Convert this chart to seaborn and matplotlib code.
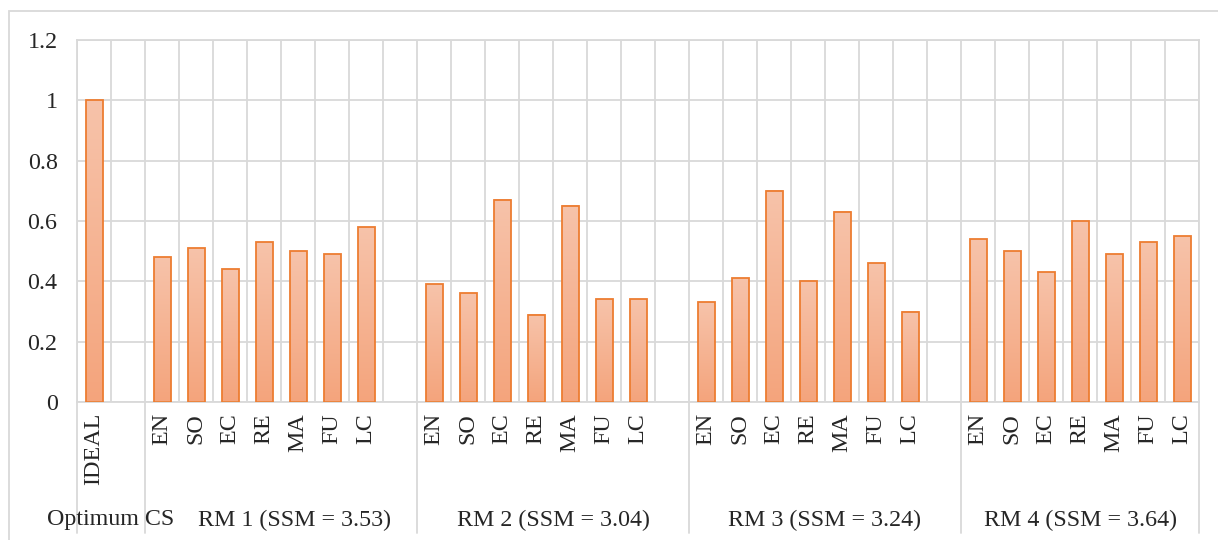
import numpy as np
import pandas as pd
import matplotlib
matplotlib.use("Agg")
import matplotlib.pyplot as plt
import matplotlib.transforms as mtransforms
from matplotlib.colors import LinearSegmentedColormap
from matplotlib.patches import Rectangle
import seaborn as sns

# ---- data ----
criteria = ["EN", "SO", "EC", "RE", "MA", "FU", "LC"]
ideal_label = "IDEAL"
ideal_value = 1.0
group_names = ["RM 1 (SSM = 3.53)", "RM 2 (SSM = 3.04)", "RM 3 (SSM = 3.24)", "RM 4 (SSM = 3.64)"]
rm1 = [0.48, 0.51, 0.44, 0.53, 0.50, 0.49, 0.58]
rm2 = [0.39, 0.36, 0.67, 0.29, 0.65, 0.34, 0.34]
rm3 = [0.33, 0.41, 0.70, 0.40, 0.63, 0.46, 0.30]
rm4 = [0.54, 0.50, 0.43, 0.60, 0.49, 0.53, 0.55]
optimum_name = "Optimum CS"
y_ticks = [0, 0.2, 0.4, 0.6, 0.8, 1.0, 1.2]
y_tick_labels = ["0", "0.2", "0.4", "0.6", "0.8", "1", "1.2"]

series = [rm1, rm2, rm3, rm4]

# slot layout: IDEAL, blank, then 7 bars + blank per group (last group no blank)
rows = [{"slot": 0, "label": ideal_label, "value": ideal_value}]
group_starts = []
for g, vals in enumerate(series):
    start = 2 + 8 * g
    group_starts.append(start)
    for j, (c, v) in enumerate(zip(criteria, vals)):
        rows.append({"slot": start + j, "label": c, "value": v})
df = pd.DataFrame(rows)
n_slots = group_starts[-1] + len(criteria)

sns.set_style("white")
plt.rcParams["font.family"] = ["Liberation Serif", "DejaVu Serif"]
FS = 17.3

W, H = 1218, 540
fig = plt.figure(figsize=(W / 100, H / 100), dpi=100)
ax = fig.add_axes([77 / W, (H - 402) / H, (1199 - 77) / W, (402 - 40) / H])

edge = "#ED7D31"
sns.barplot(data=df, x="slot", y="value", native_scale=True, width=0.5,
            facecolor="none", edgecolor=edge, linewidth=1.3, ax=ax, zorder=3)

# gradient fill inside each bar
cmap = LinearSegmentedColormap.from_list("g", ["#F4A47C", "#F7C3AA"])
grad = np.linspace(0, 1, 256).reshape(-1, 1)
for p in list(ax.patches):
    x0, y0 = p.get_x(), p.get_y()
    w, h = p.get_width(), p.get_height()
    if h <= 0:
        continue
    ax.imshow(grad, cmap=cmap, origin="lower", aspect="auto",
              extent=[x0, x0 + w, y0, y0 + h], zorder=2, interpolation="bilinear")

ax.set_xlim(-0.5, n_slots - 0.5)
ax.set_ylim(0, 1.2)

grid_c = "#D9D9D9"
ax.set_yticks(y_ticks)
ax.set_yticklabels(y_tick_labels, fontsize=FS)
ax.set_xticks(df["slot"])
ax.set_xticklabels(df["label"], rotation=90, fontsize=FS, va="top")
ax.set_xticks(np.arange(-0.5, n_slots, 1.0), minor=True)
ax.tick_params(axis="both", which="both", length=0)
ax.tick_params(axis="y", pad=14)
ax.tick_params(axis="x", which="major", pad=8)
ax.grid(True, axis="y", which="major", color=grid_c, linewidth=1.3, zorder=0)
ax.grid(True, axis="x", which="minor", color=grid_c, linewidth=1.3, zorder=0)
ax.grid(False, axis="x", which="major")
ax.set_axisbelow(True)
for s in ax.spines.values():
    s.set_color(grid_c)
    s.set_linewidth(1.3)
ax.set_xlabel("")
ax.set_ylabel("")

# group separators below axis
trans = mtransforms.blended_transform_factory(ax.transData, ax.transAxes)
sep_bottom = -(533 - 402) / (402 - 40)
seps = [-0.5, 1.5] + [s + len(criteria) + 0.5 for s in group_starts[:-1]] + [n_slots - 0.5]
for sx in seps:
    ax.plot([sx, sx], [0, sep_bottom], transform=trans, color=grid_c,
            linewidth=1.3, clip_on=False, zorder=1)

label_y = (402 - 520) / (402 - 40)
ax.text(0.5, label_y, optimum_name, transform=trans, ha="center", va="center", fontsize=FS)
label_x = [group_starts[0] + 3.9] + [s + 3.5 for s in group_starts[1:3]] + [group_starts[3] + 3.0]
for name, lx in zip(group_names, label_x):
    ax.text(lx, label_y, name, transform=trans, ha="center", va="center", fontsize=FS)

# outer chart border
fig.patches.append(Rectangle((9 / W, -0.1), 1.2, (H - 11) / H + 0.1, transform=fig.transFigure,
                             fill=False, edgecolor=grid_c, linewidth=1.3))

fig.savefig("out.png", dpi=100, facecolor="white")
